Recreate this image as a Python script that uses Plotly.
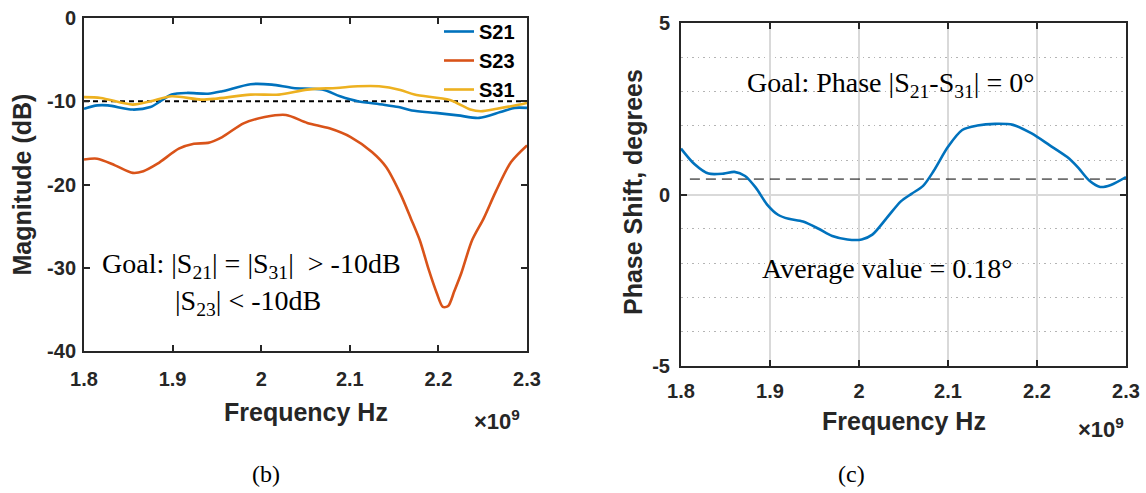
import plotly.graph_objects as go

W, H = 1146, 493

# ---------------- data (frequency in GHz, shown with x10^9 multiplier) ----------------
f_s21 = [1.800, 1.815, 1.827, 1.855, 1.875, 1.899, 1.916, 1.940, 1.956, 1.988, 2.012,
         2.036, 2.069, 2.089, 2.109, 2.137, 2.155, 2.170, 2.197, 2.222, 2.246, 2.270, 2.286, 2.300]
s21_db = [-10.9, -10.5, -10.5, -11.0, -10.7, -9.2, -9.0, -9.1, -8.8, -7.95, -8.0,
          -8.4, -8.6, -9.4, -10.0, -10.4, -10.7, -11.1, -11.4, -11.7, -12.0, -11.3, -10.8, -10.8]

f_s23 = [1.800, 1.815, 1.835, 1.855, 1.867, 1.883, 1.907, 1.924, 1.940, 1.956, 1.980,
         2.004, 2.028, 2.052, 2.077, 2.101, 2.125, 2.141, 2.157, 2.169, 2.179, 2.189,
         2.198, 2.205, 2.211, 2.218, 2.226, 2.238, 2.251, 2.265, 2.282, 2.300]
s23_db = [-17.0, -16.9, -17.7, -18.6, -18.4, -17.5, -15.7, -15.1, -15.0, -14.3, -12.65,
          -11.9, -11.65, -12.6, -13.25, -14.3, -16.1, -17.9, -21.1, -24.1, -26.7, -30.2,
          -33.0, -34.7, -34.6, -32.8, -30.6, -26.7, -24.1, -20.8, -17.3, -15.3]

f_s31 = [1.800, 1.819, 1.855, 1.875, 1.899, 1.932, 1.948, 1.988, 2.020, 2.052, 2.085,
         2.109, 2.133, 2.157, 2.173, 2.213, 2.236, 2.248, 2.266, 2.282, 2.300]
s31_db = [-9.5, -9.6, -10.4, -10.0, -9.4, -9.8, -9.7, -9.2, -9.2, -8.6, -8.4,
          -8.2, -8.2, -8.65, -9.2, -9.85, -11.0, -11.2, -10.9, -10.6, -10.2]

goal_x = [1.8, 2.3]
goal_db = [-10, -10]

f_phase = [1.800, 1.815, 1.831, 1.848, 1.860, 1.872, 1.884, 1.897, 1.909, 1.921, 1.937,
           1.954, 1.970, 1.987, 2.003, 2.015, 2.031, 2.047, 2.059, 2.072, 2.084, 2.100,
           2.116, 2.133, 2.153, 2.173, 2.194, 2.214, 2.234, 2.246, 2.259, 2.271, 2.283, 2.300]
phase_deg = [1.34, 0.89, 0.61, 0.61, 0.66, 0.54, 0.20, -0.30, -0.59, -0.71, -0.79,
             -0.99, -1.21, -1.31, -1.31, -1.17, -0.69, -0.20, 0.02, 0.25, 0.69, 1.39,
             1.88, 2.01, 2.06, 2.03, 1.78, 1.44, 1.09, 0.79, 0.40, 0.22, 0.28, 0.51]

avg_x = [1.81, 2.3]
avg_deg = [0.45, 0.45]

x_ticks = [1.8, 1.9, 2.0, 2.1, 2.2, 2.3]
x_ticktext = ["1.8", "1.9", "2", "2.1", "2.2", "2.3"]
mag_ticks = [-40, -30, -20, -10, 0]
mag_ticktext = ["-40", "-30", "-20", "-10", "0"]
phase_ticks = [-5, 0, 5]
phase_ticktext = ["-5", "0", "5"]

C_BLUE, C_ORANGE, C_YELLOW = "#0072BD", "#D95319", "#EDB120"
AX = "#262626"
SANS = "Liberation Sans, Arial, sans-serif"
SERIF = "Liberation Serif, Times New Roman, serif"

fig = go.Figure()

fig.add_trace(go.Scatter(x=goal_x, y=goal_db, mode="lines", showlegend=False,
                         line=dict(color="black", width=2, dash="5px,4px"),
                         xaxis="x", yaxis="y", hoverinfo="skip"))
fig.add_trace(go.Scatter(x=f_s21, y=s21_db, mode="lines", name="S21", legendgroup="a",
                         line=dict(color=C_BLUE, width=2.6, shape="spline", smoothing=0.8),
                         xaxis="x", yaxis="y"))
fig.add_trace(go.Scatter(x=f_s23, y=s23_db, mode="lines", name="S23", legendgroup="b",
                         line=dict(color=C_ORANGE, width=2.6, shape="spline", smoothing=0.8),
                         xaxis="x", yaxis="y"))
fig.add_trace(go.Scatter(x=f_s31, y=s31_db, mode="lines", name="S31", legendgroup="c",
                         line=dict(color=C_YELLOW, width=2.6, shape="spline", smoothing=0.8),
                         xaxis="x", yaxis="y"))

fig.add_trace(go.Scatter(x=avg_x, y=avg_deg, mode="lines", showlegend=False,
                         line=dict(color="black", width=1, dash="10px,6px"),
                         xaxis="x2", yaxis="y2", hoverinfo="skip"))
fig.add_trace(go.Scatter(x=f_phase, y=phase_deg, mode="lines", showlegend=False,
                         line=dict(color=C_BLUE, width=2.6, shape="spline", smoothing=0.8),
                         xaxis="x2", yaxis="y2"))

tickfont = dict(family=SANS, size=20, color=AX, weight="bold")
common = dict(showline=True, linewidth=2, linecolor=AX, mirror="ticks",
              ticks="inside", ticklen=6, tickwidth=1.5, tickcolor=AX,
              tickfont=tickfont, zeroline=False, automargin=False, tickmode="array")


def px_x(px):
    return px / W


def px_y(py):
    return 1 - py / H


fig.update_layout(
    template="none",
    width=W, height=H,
    margin=dict(l=0, r=0, t=0, b=0, pad=0, autoexpand=False),
    paper_bgcolor="white", plot_bgcolor="white",
    xaxis=dict(domain=[px_x(84), px_x(527)], range=[1.8, 2.3], anchor="y",
               tickvals=x_ticks, ticktext=x_ticktext, showgrid=False,
               ticklabelstandoff=9, **common),
    yaxis=dict(domain=[px_y(351), px_y(18)], range=[-40, 0], anchor="x",
               tickvals=mag_ticks, ticktext=mag_ticktext, showgrid=False,
               ticklabelstandoff=2, **common),
    xaxis2=dict(domain=[px_x(681), px_x(1126)], range=[1.8, 2.3], anchor="y2",
                tickvals=x_ticks, ticktext=x_ticktext, showgrid=True,
                gridcolor="#d9d9d9", gridwidth=1.5, ticklabelstandoff=6, **common),
    yaxis2=dict(domain=[px_y(366), px_y(23)], range=[-5, 5], anchor="x2",
                tickvals=phase_ticks, ticktext=phase_ticktext, showgrid=True,
                gridcolor="#d9d9d9", gridwidth=1.5,
                minor=dict(tickmode="linear", tick0=0, dtick=1, showgrid=True,
                           gridcolor="#b4b4b4", gridwidth=1, griddash="1.5px,4px", ticks=""),
                ticklabelstandoff=5, **common),
    legend=dict(x=px_x(520), y=px_y(12), xanchor="right", yanchor="top",
                bgcolor="rgba(0,0,0,0)", borderwidth=0, tracegroupgap=0,
                font=dict(family=SANS, size=20, color="black", weight="bold")),
    showlegend=True,
)

ann = []
lab = dict(family=SANS, size=25, color=AX, weight="bold")
mult = dict(family=SANS, size=22, color=AX, weight="bold")


def note(text, x, y, font, angle=0, xanchor="center"):
    ann.append(dict(text=text, x=px_x(x), y=px_y(y), xref="paper", yref="paper",
                    xanchor=xanchor, yanchor="middle", textangle=angle,
                    showarrow=False, font=font))


note("Magnitude (dB)", 22, 184.5, lab, angle=-90)
note("Frequency Hz", 305.5, 412, lab)
note("×10<sup>9</sup>", 472, 420, mult, xanchor="left")
note("Phase Shift, degrees", 633, 192, lab, angle=-90)
note("Frequency Hz", 903.5, 421, lab)
note("×10<sup>9</sup>", 1076, 428, mult, xanchor="left")

serif = dict(family=SERIF, size=28, color="black")
note("Goal: |S<sub>21</sub>| = |S<sub>31</sub>|  &gt; -10dB", 100, 265, serif, xanchor="left")
note("|S<sub>23</sub>| &lt; -10dB", 173, 302, serif, xanchor="left")
note("Goal: Phase |S<sub>21</sub>-S<sub>31</sub>| = 0°", 890, 84, serif)
note("Average value = 0.18°", 887, 268, serif)
note("(b)", 266, 474, dict(family=SERIF, size=24, color="black"))
note("(c)", 851, 474, dict(family=SERIF, size=24, color="black"))

fig.update_layout(annotations=ann)

fig.write_html("out.html", config={"displayModeBar": False},
               post_script="document.body.style.margin='0px';")
